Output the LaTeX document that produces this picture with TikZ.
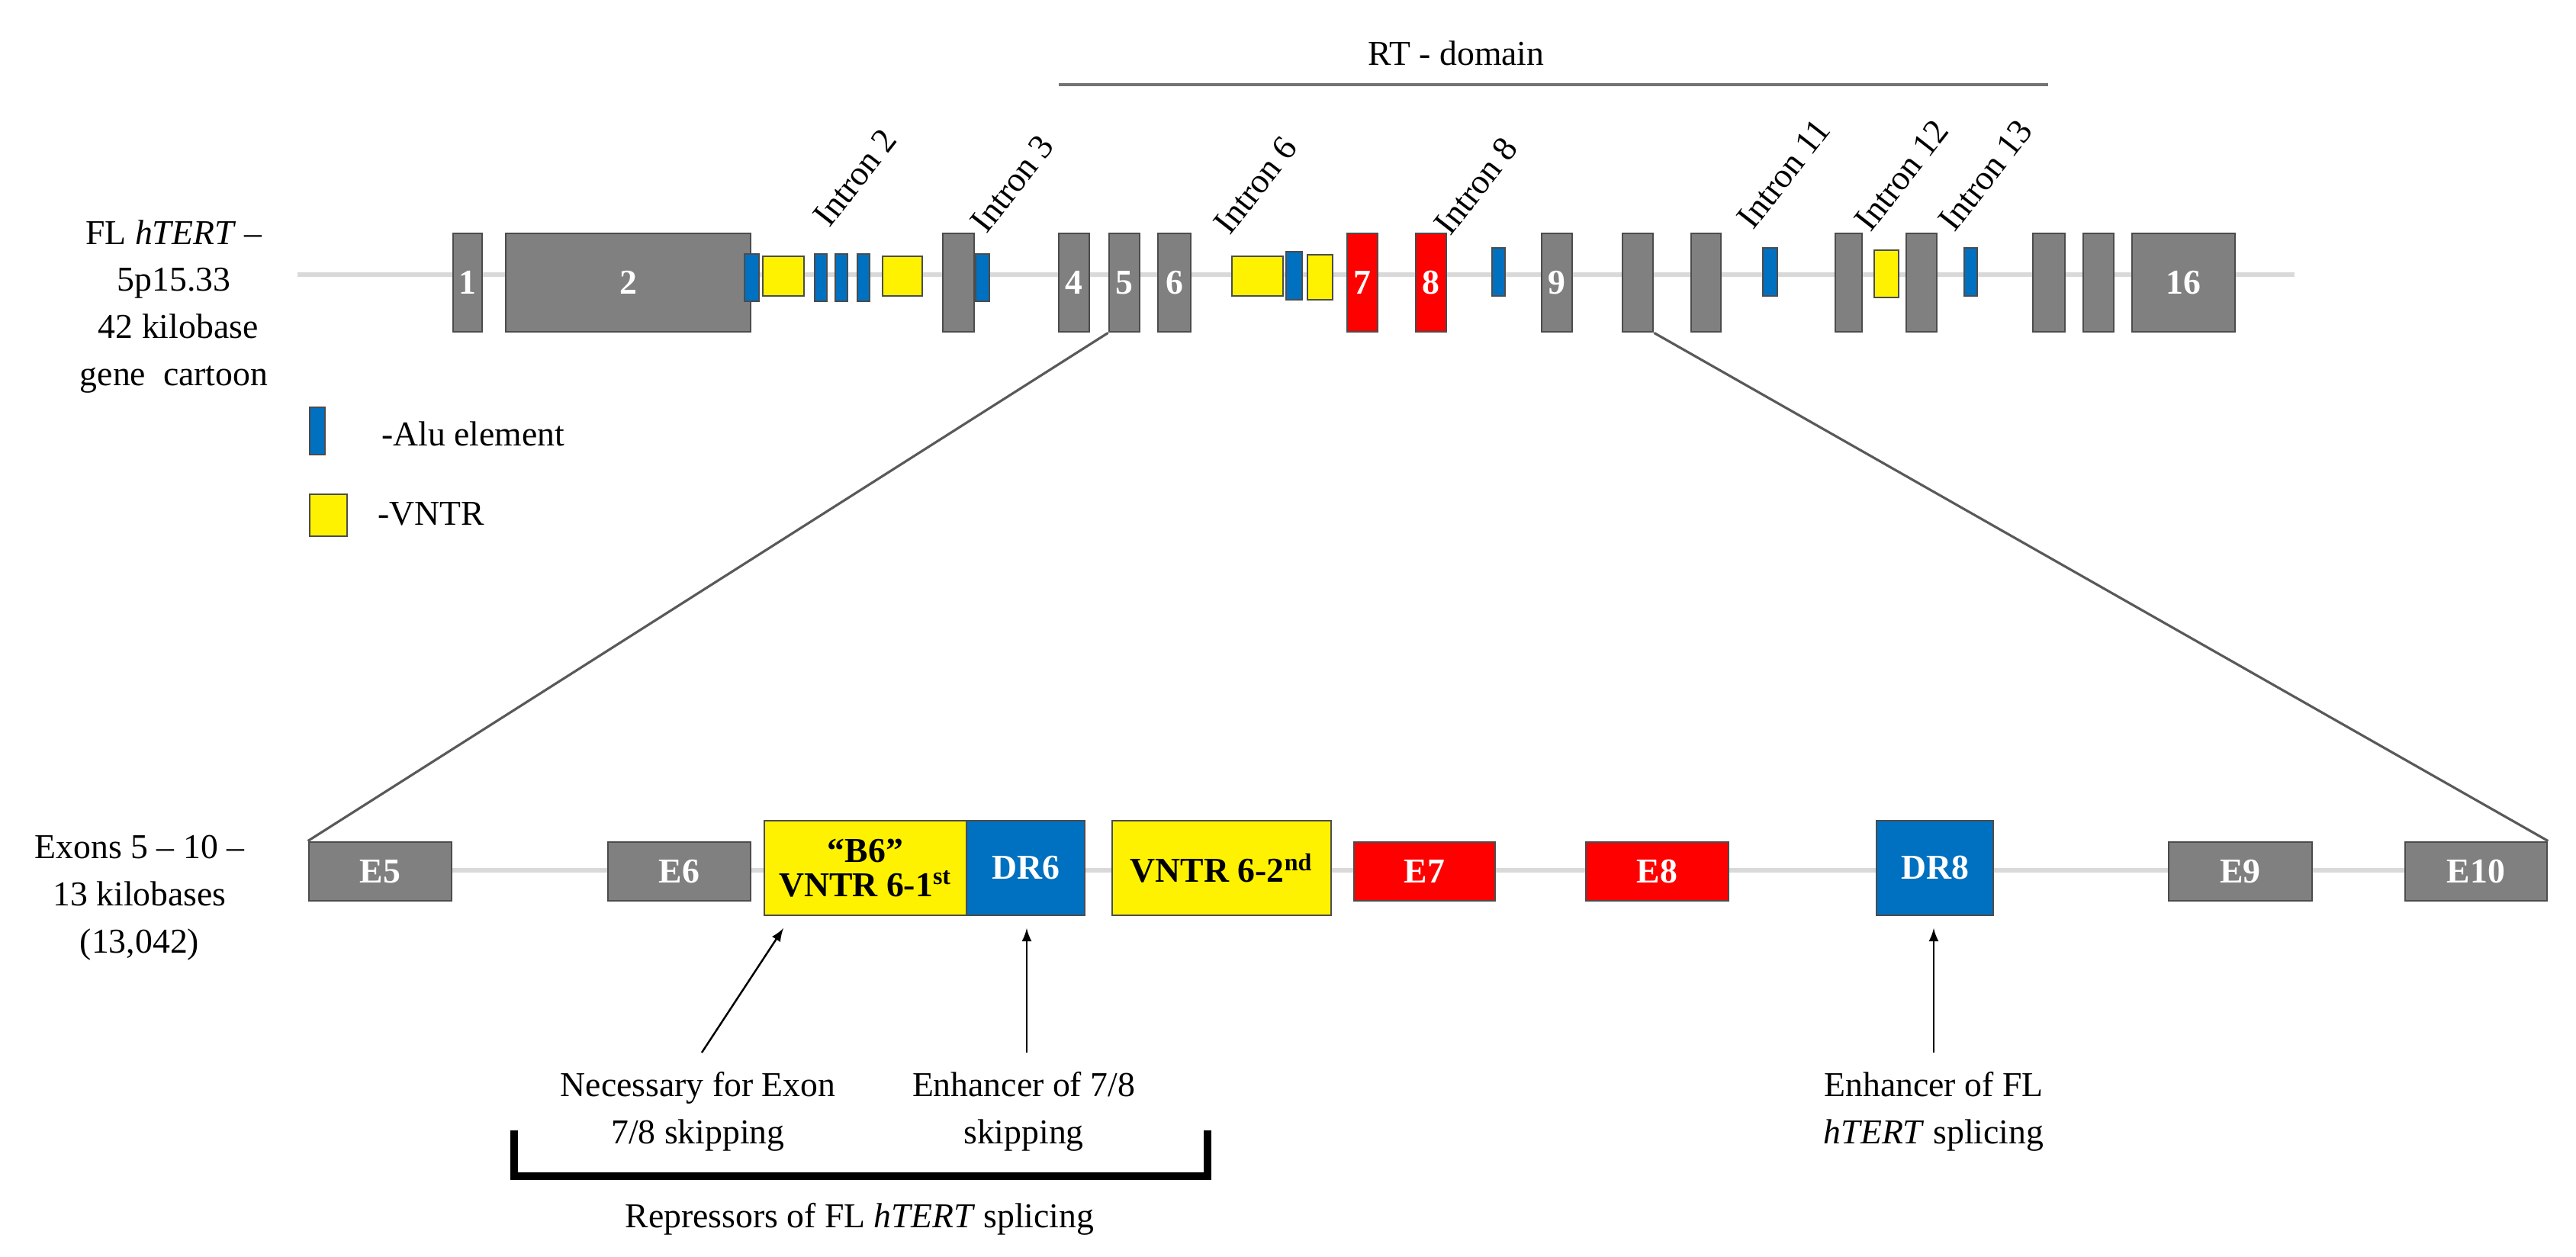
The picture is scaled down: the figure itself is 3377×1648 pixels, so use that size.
\documentclass[tikz,border=0pt]{standalone}
\usepackage{fontspec}
\setmainfont{Liberation Serif}
\begin{document}
\begin{tikzpicture}[x=0.01cm,y=-0.01cm,
  base/.style={draw=black!70,line width=0.8pt,inner sep=0pt,font=\fontsize{13}{15}\selectfont\bfseries},
  gx/.style={base,fill=black!50,text=white},
  rx/.style={base,fill=red,text=white},
  bx/.style={base,fill={rgb,255:red,0;green,112;blue,192},text=white},
  yx/.style={base,fill=yellow,text=black},
  bb/.style={draw=black!15,line width=1.5pt},
  zl/.style={draw=black!65,line width=0.9pt},
  lab/.style={font=\fontsize{13}{17.6}\selectfont,align=center},
  intr/.style={font=\fontsize{13}{15}\selectfont,rotate=52,anchor=south west,inner sep=1pt},
  arr/.style={draw=black,line width=0.7pt,-latex}]
\useasboundingbox (0,0) rectangle (3377,1648);
\newcommand\bx[7]{\node[#1,minimum width={(#4-#3)*0.01cm},minimum height={(#6-#5)*0.01cm}] (#2) at ({(#3+#4)/2},{(#5+#6)/2}) {#7};}
% top backbone
\coordinate (tl) at (390,360); \coordinate (tr) at (3008,360);
\draw[bb] (tl) -- (tr);
% RT domain
\coordinate (rt1) at (1388,111); \coordinate (rt2) at (2685,111);
\draw[draw=black!55,line width=1.2pt] (rt1) -- (rt2);
\node[lab] (rtt) at (1909,70) {RT - domain};
% exons top
\bx{gx}{x1}{594}{632}{306}{435}{1}
\bx{gx}{x2}{663}{984}{306}{435}{2}
\bx{bx}{a1}{976}{995}{333}{395}{}
\bx{yx}{v1}{1000}{1054}{336}{388}{}
\bx{bx}{a2}{1068}{1084}{333}{395}{}
\bx{bx}{a3}{1095}{1111}{333}{395}{}
\bx{bx}{a4}{1124}{1140}{333}{395}{}
\bx{yx}{v2}{1157}{1209}{336}{388}{}
\bx{gx}{x3}{1236}{1277}{306}{435}{}
\bx{bx}{a5}{1279}{1297}{333}{395}{}
\bx{gx}{x4}{1388}{1428}{306}{435}{4}
\bx{gx}{x5}{1454}{1494}{306}{435}{5}
\bx{gx}{x6}{1518}{1561}{306}{435}{6}
\bx{yx}{v3}{1615}{1682}{336}{388}{}
\bx{bx}{a6}{1686}{1707}{330}{393}{}
\bx{yx}{v4}{1714}{1747}{334}{393}{}
\bx{rx}{x7}{1766}{1806}{306}{435}{7}
\bx{rx}{x8}{1856}{1896}{306}{435}{8}
\bx{bx}{a7}{1956}{1973}{325}{388}{}
\bx{gx}{x9}{2021}{2061}{306}{435}{9}
\bx{gx}{x10}{2127}{2167}{306}{435}{}
\bx{gx}{x11}{2217}{2256}{306}{435}{}
\bx{bx}{a8}{2311}{2330}{325}{388}{}
\bx{gx}{x12}{2406}{2441}{306}{435}{}
\bx{yx}{v5}{2457}{2489}{328}{390}{}
\bx{gx}{x13}{2499}{2539}{306}{435}{}
\bx{bx}{a9}{2575}{2592}{325}{388}{}
\bx{gx}{x14}{2665}{2707}{306}{435}{}
\bx{gx}{x15}{2731}{2771}{306}{435}{}
\bx{gx}{x16}{2795}{2930}{306}{435}{16}
% intron labels
\node[intr] (i2) at (1089,306) {Intron 2};
\node[intr] (i3) at (1295,314) {Intron 3};
\node[intr] (i6) at (1614,316) {Intron 6};
\node[intr] (i8) at (1903,317) {Intron 8};
\node[intr] (i11) at (2300,309) {Intron 11};
\node[intr] (i12) at (2454,312) {Intron 12};
\node[intr] (i13) at (2564,312) {Intron 13};
% left label
\node[lab] (fl) at (228,402) {FL \textit{hTERT} –\\5p15.33\\\ 42 kilobase\\gene\ \ cartoon};
% legend
\bx{bx}{la}{406}{426}{534}{596}{}
\node[lab,anchor=west] (lat) at (488,569) {-Alu element};
\bx{yx}{lv}{406}{455}{648}{703}{}
\node[lab,anchor=west] (lvt) at (483,674) {-VNTR};
% bottom
\coordinate (bl) at (405,1141); \coordinate (br) at (3339,1141);
\draw[bb] (bl) -- (br);
\bx{gx}{e5}{405}{592}{1104}{1181}{E5}
\bx{gx}{e6}{797}{984}{1104}{1181}{E6}
\bx{yx}{b6}{1002}{1267}{1076}{1200}{\shortstack{“B6”\\VNTR 6-1\textsuperscript{st}}}
\bx{bx}{dr6}{1267}{1422}{1076}{1200}{DR6}
\bx{yx}{v62}{1458}{1745}{1076}{1200}{VNTR 6-2\textsuperscript{nd}}
\bx{rx}{e7}{1775}{1960}{1104}{1181}{E7}
\bx{rx}{e8}{2079}{2266}{1104}{1181}{E8}
\bx{bx}{dr8}{2460}{2613}{1076}{1200}{DR8}
\bx{gx}{e9}{2843}{3031}{1104}{1181}{E9}
\bx{gx}{e10}{3153}{3339}{1104}{1181}{E10}
\node[lab] (ex) at (183,1177) {Exons 5 – 10 –\\13 kilobases\\(13,042)};
% zoom lines
\draw[zl] (e5.north west) -- (x5.south west);
\draw[zl] (e10.north east) -- (x10.south east);
% annotations
\node[lab] (n1) at (915,1457) {Necessary for Exon\\7/8 skipping};
\node[lab] (n2) at (1342,1457) {Enhancer of 7/8\\skipping};
\node[lab] (n3) at (2535,1457) {Enhancer of FL\\\textit{hTERT} splicing};
\coordinate (p1) at (920,1380); \coordinate (q1) at (1027,1217);
\draw[arr] (p1) -- (q1);
\coordinate (p2) at (1346,1380); \coordinate (q2) at (1346,1217);
\draw[arr] (p2) -- (q2);
\coordinate (p3) at (2535,1380); \coordinate (q3) at (2535,1217);
\draw[arr] (p3) -- (q3);
\coordinate (k1) at (674,1482); \coordinate (k2) at (1583,1482);
\draw[line width=3pt] (k1) -- ++(0,60) -| (k2);
\node[lab] (rep) at (1127,1598) {Repressors of FL \textit{hTERT} splicing};
\end{tikzpicture}
\end{document}
